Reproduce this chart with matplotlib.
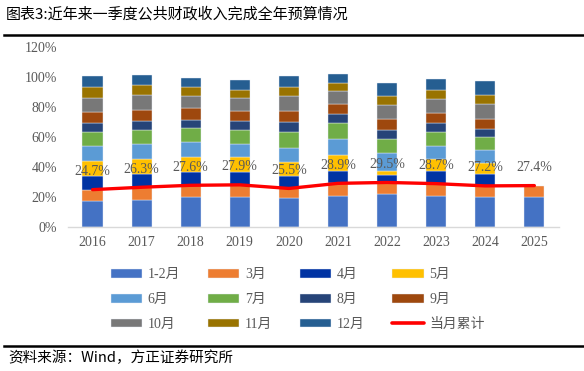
import matplotlib
matplotlib.use('Agg')
import matplotlib.pyplot as plt
import numpy as np
from matplotlib.lines import Line2D

nan = float('nan')
years = ['2016', '2017', '2018', '2019', '2020', '2021', '2022', '2023', '2024', '2025']
m_1_2 = [16.9, 18.0, 19.6, 19.6, 18.9, 20.7, 21.8, 20.2, 19.6, 19.6]
m_3 = [7.8, 8.3, 8.0, 8.3, 6.6, 8.2, 7.7, 8.5, 7.6, 7.8]
m_4 = [9.3, 8.8, 9.1, 8.8, 8.1, 8.4, 4.9, 8.6, 7.9, nan]
m_5 = [10.0, 9.8, 9.5, 9.5, 9.3, 10.7, 2.9, 7.8, 7.1, nan]
m_6 = [9.6, 10.2, 10.0, 8.9, 9.5, 10.4, 11.8, 8.9, 8.9, nan]
m_7 = [9.3, 9.6, 9.4, 9.6, 10.5, 10.5, 9.3, 9.3, 8.5, nan]
m_8 = [6.2, 6.0, 5.7, 5.5, 6.7, 6.2, 6.3, 5.8, 5.5, nan]
m_9 = [7.1, 7.3, 7.6, 6.7, 7.7, 6.7, 7.1, 6.5, 6.7, nan]
m_10 = [9.6, 9.8, 8.4, 8.7, 10.0, 8.9, 9.5, 9.5, 10.0, nan]
m_11 = [7.5, 6.9, 5.6, 5.5, 5.6, 4.9, 6.0, 6.0, 6.0, nan]
m_12 = [7.4, 6.6, 6.2, 6.7, 7.8, 6.2, 8.3, 7.3, 9.5, nan]
cum_q1 = [24.7, 26.3, 27.6, 27.9, 25.5, 28.9, 29.5, 28.7, 27.2, 27.4]

names = ['1-2月', '3月', '4月', '5月', '6月', '7月', '8月', '9月', '10月', '11月', '12月']
series = [m_1_2, m_3, m_4, m_5, m_6, m_7, m_8, m_9, m_10, m_11, m_12]
colors = ['#4472C4', '#ED7D31', '#0033A3', '#FFC000', '#5B9BD5', '#70AD47',
          '#264478', '#9E480E', '#787878', '#997300', '#255E91']
line_name = '当月累计'

SERIF = ['Liberation Serif', 'Noto Sans CJK SC']
CJK = ['Noto Sans CJK SC', 'DejaVu Sans']
plt.rcParams['font.family'] = SERIF

fig = plt.figure(figsize=(5.84, 3.71), dpi=100)
ax = fig.add_axes([0.1164, 0.389, 0.8406, 0.485])

x = np.arange(len(years))
bottom = np.zeros(len(years))
handles = []
for vals, color, name in zip(series, colors, names):
    v = np.array(vals, dtype=float)
    h = ax.bar(x, v, bottom=bottom, width=0.41, color=color, label=name,
               edgecolor='#e8eef8', linewidth=0.3, zorder=2)
    handles.append(h)
    bottom += np.nan_to_num(v)

ln, = ax.plot(x, cum_q1, color='#FF0000', lw=2.4, zorder=5, solid_capstyle='round')
for xi, v in zip(x, cum_q1):
    ax.annotate(f'{v:.1f}%', (xi, v), xytext=(0, 13), textcoords='offset points',
                ha='center', va='center', fontsize=10, color='#595959',
                family=SERIF, zorder=6)

ax.set_xlim(-0.5, len(years) - 0.5)
ax.set_ylim(0, 120)
ax.set_yticks(np.arange(0, 121, 20))
ax.set_yticklabels([f'{t}%' for t in range(0, 121, 20)])
ax.set_xticks(x)
ax.set_xticklabels(years)
ax.tick_params(axis='both', length=0, labelsize=10, labelcolor='#595959')
ax.tick_params(axis='y', pad=8)
ax.tick_params(axis='x', pad=7)
for s in ['left', 'top', 'right']:
    ax.spines[s].set_visible(False)
ax.spines['bottom'].set_color('#D9D9D9')
ax.spines['bottom'].set_linewidth(1.0)

# legend: row-major order, matplotlib fills column-major
line_h = Line2D([0], [0], color='#FF0000', lw=2.6, solid_capstyle='round')
all_h = handles + [line_h]
all_l = names + [line_name]
order = [0, 4, 8, 1, 5, 9, 2, 6, 10, 3, 7, 11]
leg = fig.legend([all_h[i] for i in order], [all_l[i] for i in order],
                 ncol=4, loc='upper left', bbox_to_anchor=(0.190, 0.277),
                 bbox_transform=fig.transFigure, frameon=False,
                 fontsize=10, handlelength=2.25, handleheight=0.6,
                 handletextpad=0.4, columnspacing=2.0, labelspacing=0.85,
                 borderpad=0, borderaxespad=0)
for t in leg.get_texts():
    t.set_color('#595959')
    t.set_family(SERIF)

# title & source
fig.text(0.009, 0.962, '图表3:近年来一季度公共财政收入完成全年预算情况',
         fontsize=10.8, family=CJK, color='black', va='center', ha='left')
fig.add_artist(Line2D([0.007, 1.0], [0.907, 0.907], transform=fig.transFigure,
                      color='black', lw=1.8))
fig.add_artist(Line2D([0.007, 1.0], [0.068, 0.068], transform=fig.transFigure,
                      color='black', lw=1.8))
fig.text(0.014, 0.036, '资料来源：Wind，方正证券研究所', fontsize=10.5,
         family=CJK, style='italic', color='black', va='center', ha='left')

fig.savefig('out.png', dpi=100)
